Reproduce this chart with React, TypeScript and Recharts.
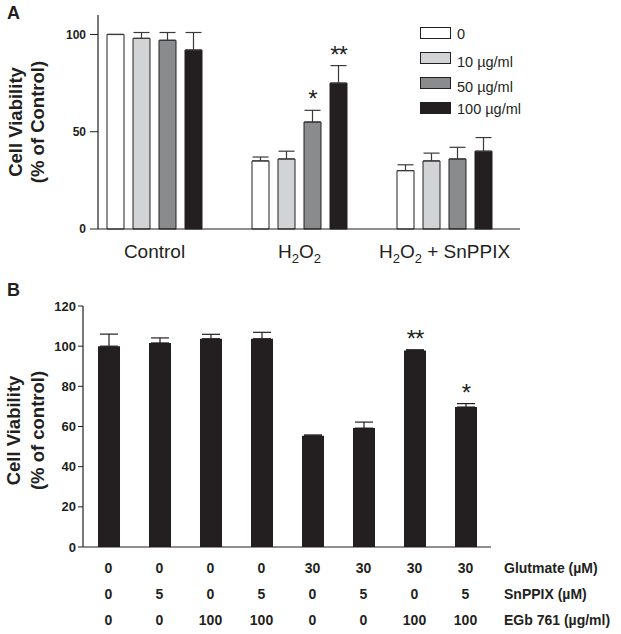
import React from "react";
import { BarChart, Bar, XAxis, YAxis, ErrorBar, LabelList, Label } from "recharts";

const FONT = "'Liberation Sans', Arial, Helvetica, sans-serif";
const INK = "#231f20";

// ---------- Panel A data ----------
const groupsA = ["Control", "H2O2", "H2O2 + SnPPIX"];
const seriesNamesA = ["0", "10 µg/ml", "50 µg/ml", "100 µg/ml"];
const seriesColorsA = ["#ffffff", "#d1d3d4", "#898b8d", "#231f20"];
const dose0 = [100, 35, 30];
const dose0Err = [0, 2, 3];
const dose10 = [98, 36, 35];
const dose10Err = [3, 4, 4];
const dose50 = [97, 55, 36];
const dose50Err = [4, 6, 6];
const dose100 = [92, 75, 40];
const dose100Err = [9, 9, 7];
const dose50Sig = ["", "*", ""];
const dose100Sig = ["", "**", ""];
const ticksA = [0, 50, 100];

// ---------- Panel B data ----------
const glutamate = ["0", "0", "0", "0", "30", "30", "30", "30"];
const snppix = ["0", "5", "0", "5", "0", "5", "0", "5"];
const egb = ["0", "0", "100", "100", "0", "0", "100", "100"];
const viabilityB = [100, 101.6, 103.7, 103.7, 55.4, 59.2, 97.9, 69.7];
const viabilityBErr = [6, 2.5, 2.2, 3.2, 0.4, 3, 0.3, 1.7];
const sigB = ["", "", "", "", "", "", "**", "*"];
const ticksB = [0, 20, 40, 60, 80, 100, 120];

const dataA = groupsA.map((g, i) => ({
  group: g,
  d0: dose0[i],
  d0e: [0, dose0Err[i]],
  d10: dose10[i],
  d10e: [0, dose10Err[i]],
  d50: dose50[i],
  d50e: [0, dose50Err[i]],
  d100: dose100[i],
  d100e: [0, dose100Err[i]],
  s50: dose50Sig[i] ? `${dose50Sig[i]}|${dose50Err[i]}|${dose50[i]}` : "",
  s100: dose100Sig[i] ? `${dose100Sig[i]}|${dose100Err[i]}|${dose100[i]}` : "",
}));

const dataB = viabilityB.map((v, i) => ({
  glut: glutamate[i],
  sn: snppix[i],
  egb: egb[i],
  v,
  e: [0, viabilityBErr[i]],
  sig: sigB[i] ? `${sigB[i]}|${viabilityBErr[i]}|${v}` : "",
}));

const sigContent = (props: any) => {
  const { value } = props;
  if (!value || typeof value !== "string") return null;
  const [mark, errS, valS] = value.split("|");
  const vb = props.viewBox && props.viewBox.width != null ? props.viewBox : props;
  const x = Number(vb.x);
  const y = Number(vb.y);
  const w = Number(vb.width);
  const h = Math.abs(Number(vb.height));
  const ppu = h / Number(valS);
  const top = y - Number(errS) * ppu;
  return (
    <text x={x + w / 2} y={top - 3} textAnchor="middle" fontSize={24} fontFamily={FONT} fill={INK}
      letterSpacing={-1}>
      {mark}
    </text>
  );
};

function chem(label: string) {
  const out: React.ReactNode[] = [];
  let buf = "";
  let shifted = false;
  let k = 0;
  for (let i = 0; i < label.length; i++) {
    const c = label[i];
    const sub = c === "2" && i > 0 && /[A-Za-z]/.test(label[i - 1]);
    if (sub) {
      if (buf) {
        out.push(<tspan key={k++} dy={shifted ? -5 : 0}>{buf}</tspan>);
        shifted = false;
        buf = "";
      }
      out.push(<tspan key={k++} dy={5} fontSize={13}>2</tspan>);
      shifted = true;
    } else buf += c;
  }
  if (buf) out.push(<tspan key={k++} dy={shifted ? -5 : 0}>{buf}</tspan>);
  return out;
}

const ChemTick = (props: any) => {
  const { x, y, payload } = props;
  return (
    <text x={x} y={y + 21} textAnchor="middle" fontSize={19} fontFamily={FONT} fill={INK}>
      {chem(String(payload.value))}
    </text>
  );
};

const yLabel = (l1: string, l2: string, dx1: number, dx2: number, dy: number) => (props: any) => {
  const vb = props.viewBox || { x: 0, y: 0, width: 0, height: 0 };
  const cy = vb.y + vb.height / 2 + dy;
  const x1 = vb.x + dx1;
  const x2 = vb.x + dx2;
  return (
    <g>
      <text x={x1} y={cy} transform={`rotate(-90 ${x1} ${cy})`} textAnchor="middle" dominantBaseline="central"
        fontSize={18.5} fontWeight="bold" fontFamily={FONT} fill={INK}>{l1}</text>
      <text x={x2} y={cy} transform={`rotate(-90 ${x2} ${cy})`} textAnchor="middle" dominantBaseline="central"
        fontSize={18.5} fontWeight="bold" fontFamily={FONT} fill={INK}>{l2}</text>
    </g>
  );
};

const tickStyleA = { fontSize: 12, fontWeight: "bold", fill: INK, fontFamily: FONT } as any;
const tickStyleB = { fontSize: 13, fontWeight: "bold", fill: INK, fontFamily: FONT } as any;
const rowTick = { fontSize: 14, fontWeight: "bold", fill: INK, fontFamily: FONT } as any;
const rowLabel = (value: string) => ({
  value,
  position: "right" as const,
  offset: 13,
  fontSize: 14,
  fontWeight: "bold",
  fill: INK,
  fontFamily: FONT,
});

const errKeysA = ["d0e", "d10e", "d50e", "d100e"];
const valKeysA = ["d0", "d10", "d50", "d100"];

export default function App() {
  return (
    <div style={{ position: "absolute", left: 0, top: 0, width: 621, height: 634, background: "#fff", fontFamily: FONT }}>
      <div style={{ position: "absolute", left: 7, top: 3, fontSize: 18, fontWeight: "bold", color: INK }}>A</div>
      <div style={{ position: "absolute", left: 7, top: 280, fontSize: 18, fontWeight: "bold", color: INK }}>B</div>

      {/* Panel A */}
      <div style={{ position: "absolute", left: 0, top: 0 }}>
        <BarChart width={621} height={270} data={dataA} margin={{ top: 15, right: 101, bottom: 0, left: 0 }}
          barGap={9} style={{ fontFamily: FONT }}>
          <XAxis dataKey="group" tick={<ChemTick />} tickLine={false} axisLine={{ stroke: INK, strokeWidth: 1.2 }}
            padding={{ left: -16, right: 3 }} height={41} interval={0} />
          <YAxis domain={[0, 110]} ticks={ticksA} width={98} tickSize={8} tickMargin={4} tick={tickStyleA}
            axisLine={{ stroke: INK, strokeWidth: 1.2 }} tickLine={{ stroke: INK }}>
            <Label content={yLabel("Cell Viability", "(% of Control)", 15, 37, 0)} />
          </YAxis>
          {valKeysA.map((k, i) => (
            <Bar key={k} dataKey={k} name={seriesNamesA[i]} fill={seriesColorsA[i]} stroke={INK} strokeWidth={1}
              barSize={17} isAnimationActive={false}>
              <ErrorBar dataKey={errKeysA[i]} width={8} stroke="#3a3a3a" strokeWidth={1.2} />
              {k === "d50" && <LabelList dataKey="s50" content={sigContent} />}
              {k === "d100" && <LabelList dataKey="s100" content={sigContent} />}
            </Bar>
          ))}
        </BarChart>
      </div>

      {/* Legend A */}
      {seriesNamesA.map((n, i) => (
        <React.Fragment key={n}>
          <div style={{ position: "absolute", left: 420, top: 27 + i * 25, width: 31, height: 12, boxSizing: "border-box",
            border: `1px solid ${INK}`, background: seriesColorsA[i] }} />
          <div style={{ position: "absolute", left: 457, top: 25 + i * 25 + (i === 1 || i === 2 ? 3 : 0), fontSize: 14.5,
            lineHeight: "18px", color: INK, whiteSpace: "nowrap" }}>{n}</div>
        </React.Fragment>
      ))}

      {/* Panel B */}
      <div style={{ position: "absolute", left: 0, top: 290 }}>
        <BarChart width={621} height={344} data={dataB} margin={{ top: 16, right: 130, bottom: 1, left: 0 }}
          style={{ fontFamily: FONT }}>
          <XAxis xAxisId="a_main" dataKey="glut" tick={false} tickLine={false} height={8}
            axisLine={{ stroke: INK, strokeWidth: 1.2 }} />
          <XAxis xAxisId="b_glut" dataKey="glut" height={26} axisLine={false} tickLine={false} tickSize={0} tickMargin={8}
            tick={rowTick} interval={0} label={rowLabel("Glutmate (µM)")} />
          <XAxis xAxisId="c_sn" dataKey="sn" height={26} axisLine={false} tickLine={false} tickSize={0} tickMargin={8}
            tick={rowTick} interval={0} label={rowLabel("SnPPIX (µM)")} />
          <XAxis xAxisId="d_egb" dataKey="egb" height={26} axisLine={false} tickLine={false} tickSize={0} tickMargin={8}
            tick={rowTick} interval={0} label={rowLabel("EGb 761 (µg/ml)")} />
          <YAxis domain={[0, 120]} ticks={ticksB} width={83} tickSize={5} tickMargin={2} tick={tickStyleB}
            axisLine={{ stroke: INK, strokeWidth: 1.2 }} tickLine={{ stroke: INK }}>
            <Label content={yLabel("Cell Viability", "(% of control)", 13.5, 37, 4)} />
          </YAxis>
          <Bar xAxisId="a_main" dataKey="v" fill={INK} barSize={22} isAnimationActive={false}>
            <ErrorBar dataKey="e" width={9} stroke={INK} strokeWidth={1.2} />
            <LabelList dataKey="sig" content={sigContent} />
          </Bar>
        </BarChart>
      </div>
    </div>
  );
}
